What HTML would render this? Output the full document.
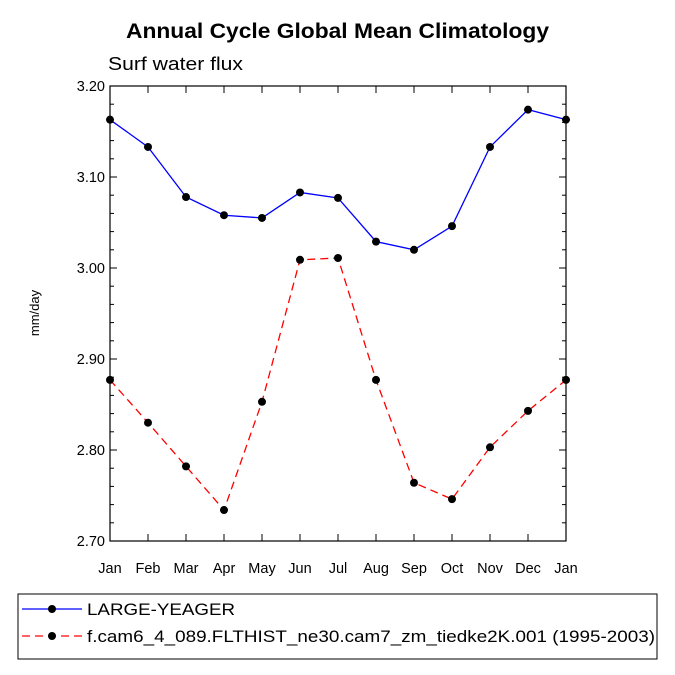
<!DOCTYPE html>
<html><head><meta charset="utf-8"><style>
body{margin:0;background:#fff;}
svg{display:block;font-family:"Liberation Sans",Arial,sans-serif;}
</style></head><body>
<svg id="chart" width="675" height="675" viewBox="0 0 675 675">
<text x="126" y="38" font-size="21" font-weight="bold" textLength="423" lengthAdjust="spacingAndGlyphs">Annual Cycle Global Mean Climatology</text>
<text x="108" y="70" font-size="18" textLength="135" lengthAdjust="spacingAndGlyphs">Surf water flux</text>
<text transform="translate(39,313) rotate(-90)" text-anchor="middle" font-size="13">mm/day</text>
<g id="axes"></g>
<g id="series"></g>
<rect x="18" y="594" width="639" height="65" fill="none" stroke="#000" stroke-width="1"/>
<g>
<line x1="22" y1="609" x2="82" y2="609" stroke="#00f" stroke-width="1.3"/>
<circle cx="52" cy="609" r="4" fill="#000"/>
<text x="87" y="615" font-size="17" textLength="148" lengthAdjust="spacingAndGlyphs">LARGE-YEAGER</text>
</g>
<g>
<line x1="22" y1="636" x2="82" y2="636" stroke="#f00" stroke-width="1.3" stroke-dasharray="8,5"/>
<circle cx="52" cy="636" r="4" fill="#000"/>
<text x="87" y="642" font-size="17" textLength="568" lengthAdjust="spacingAndGlyphs">f.cam6_4_089.FLTHIST_ne30.cam7_zm_tiedke2K.001 (1995-2003)</text>
</g>
</svg>
<script>
const months = ["Jan","Feb","Mar","Apr","May","Jun","Jul","Aug","Sep","Oct","Nov","Dec","Jan"];
const yTicks = ["2.70","2.80","2.90","3.00","3.10","3.20"];
const seriesLY = [3.163,3.133,3.078,3.058,3.055,3.083,3.077,3.029,3.020,3.046,3.133,3.174,3.163];
const seriesCAM = [2.877,2.830,2.782,2.734,2.853,3.009,3.011,2.877,2.764,2.746,2.803,2.843,2.877];
const X0=110,X1=566,Y0=541,Y1=86,YMIN=2.7,YMAX=3.2;
const xs=i=>X0+(X1-X0)*i/(months.length-1);
const ys=v=>Y0-(Y0-Y1)*(v-YMIN)/(YMAX-YMIN);
const NS="http://www.w3.org/2000/svg";
const mk=(t,a,p)=>{const e=document.createElementNS(NS,t);for(const k in a)e.setAttribute(k,a[k]);p.appendChild(e);return e;};
const ax=document.getElementById('axes');
const frame=mk('rect',{x:X0,y:Y1,width:X1-X0,height:Y0-Y1,fill:'none',stroke:'#000','stroke-width':1.2},ax);


months.forEach((m,i)=>{
  const x=xs(i);
  mk('line',{x1:x,y1:Y0,x2:x,y2:Y0-7,stroke:'#000'},ax);
  mk('line',{x1:x,y1:Y1,x2:x,y2:Y1+7,stroke:'#000'},ax);
  const t=mk('text',{x:x,y:Y0+32,'text-anchor':'middle','font-size':14.5},ax);
  t.textContent=m;
  
  
});
for(let k=0;k<=25;k++){
  const v=YMIN+k*0.02,y=ys(v),len=(k%5===0)?7:4;
  mk('line',{x1:X0,y1:y,x2:X0+len,y2:y,stroke:'#000'},ax);
  mk('line',{x1:X1,y1:y,x2:X1-len,y2:y,stroke:'#000'},ax);
}
yTicks.forEach(s=>{
  const t=mk('text',{x:X0-5,y:ys(parseFloat(s))+5,'text-anchor':'end','font-size':14.5},ax);
  t.textContent=s;
  
  
});
const sg=document.getElementById('series');
function draw(vals,color,dash,name){
  const g=mk('g',{},sg);
  
  
  const pts=vals.map((v,i)=>xs(i)+','+ys(v)).join(' ');
  const a={points:pts,fill:'none',stroke:color,'stroke-width':1.3};
  if(dash)a['stroke-dasharray']=dash;
  mk('polyline',a,g);
  vals.forEach((v,i)=>{
    const c=mk('circle',{cx:xs(i),cy:ys(v),r:4,fill:'#000'},g);
    
    
  });
}
draw(seriesLY,'#00f',null,'series-large-yeager');
draw(seriesCAM,'#f00','8,5','series-cam6');
</script>
</body></html>
